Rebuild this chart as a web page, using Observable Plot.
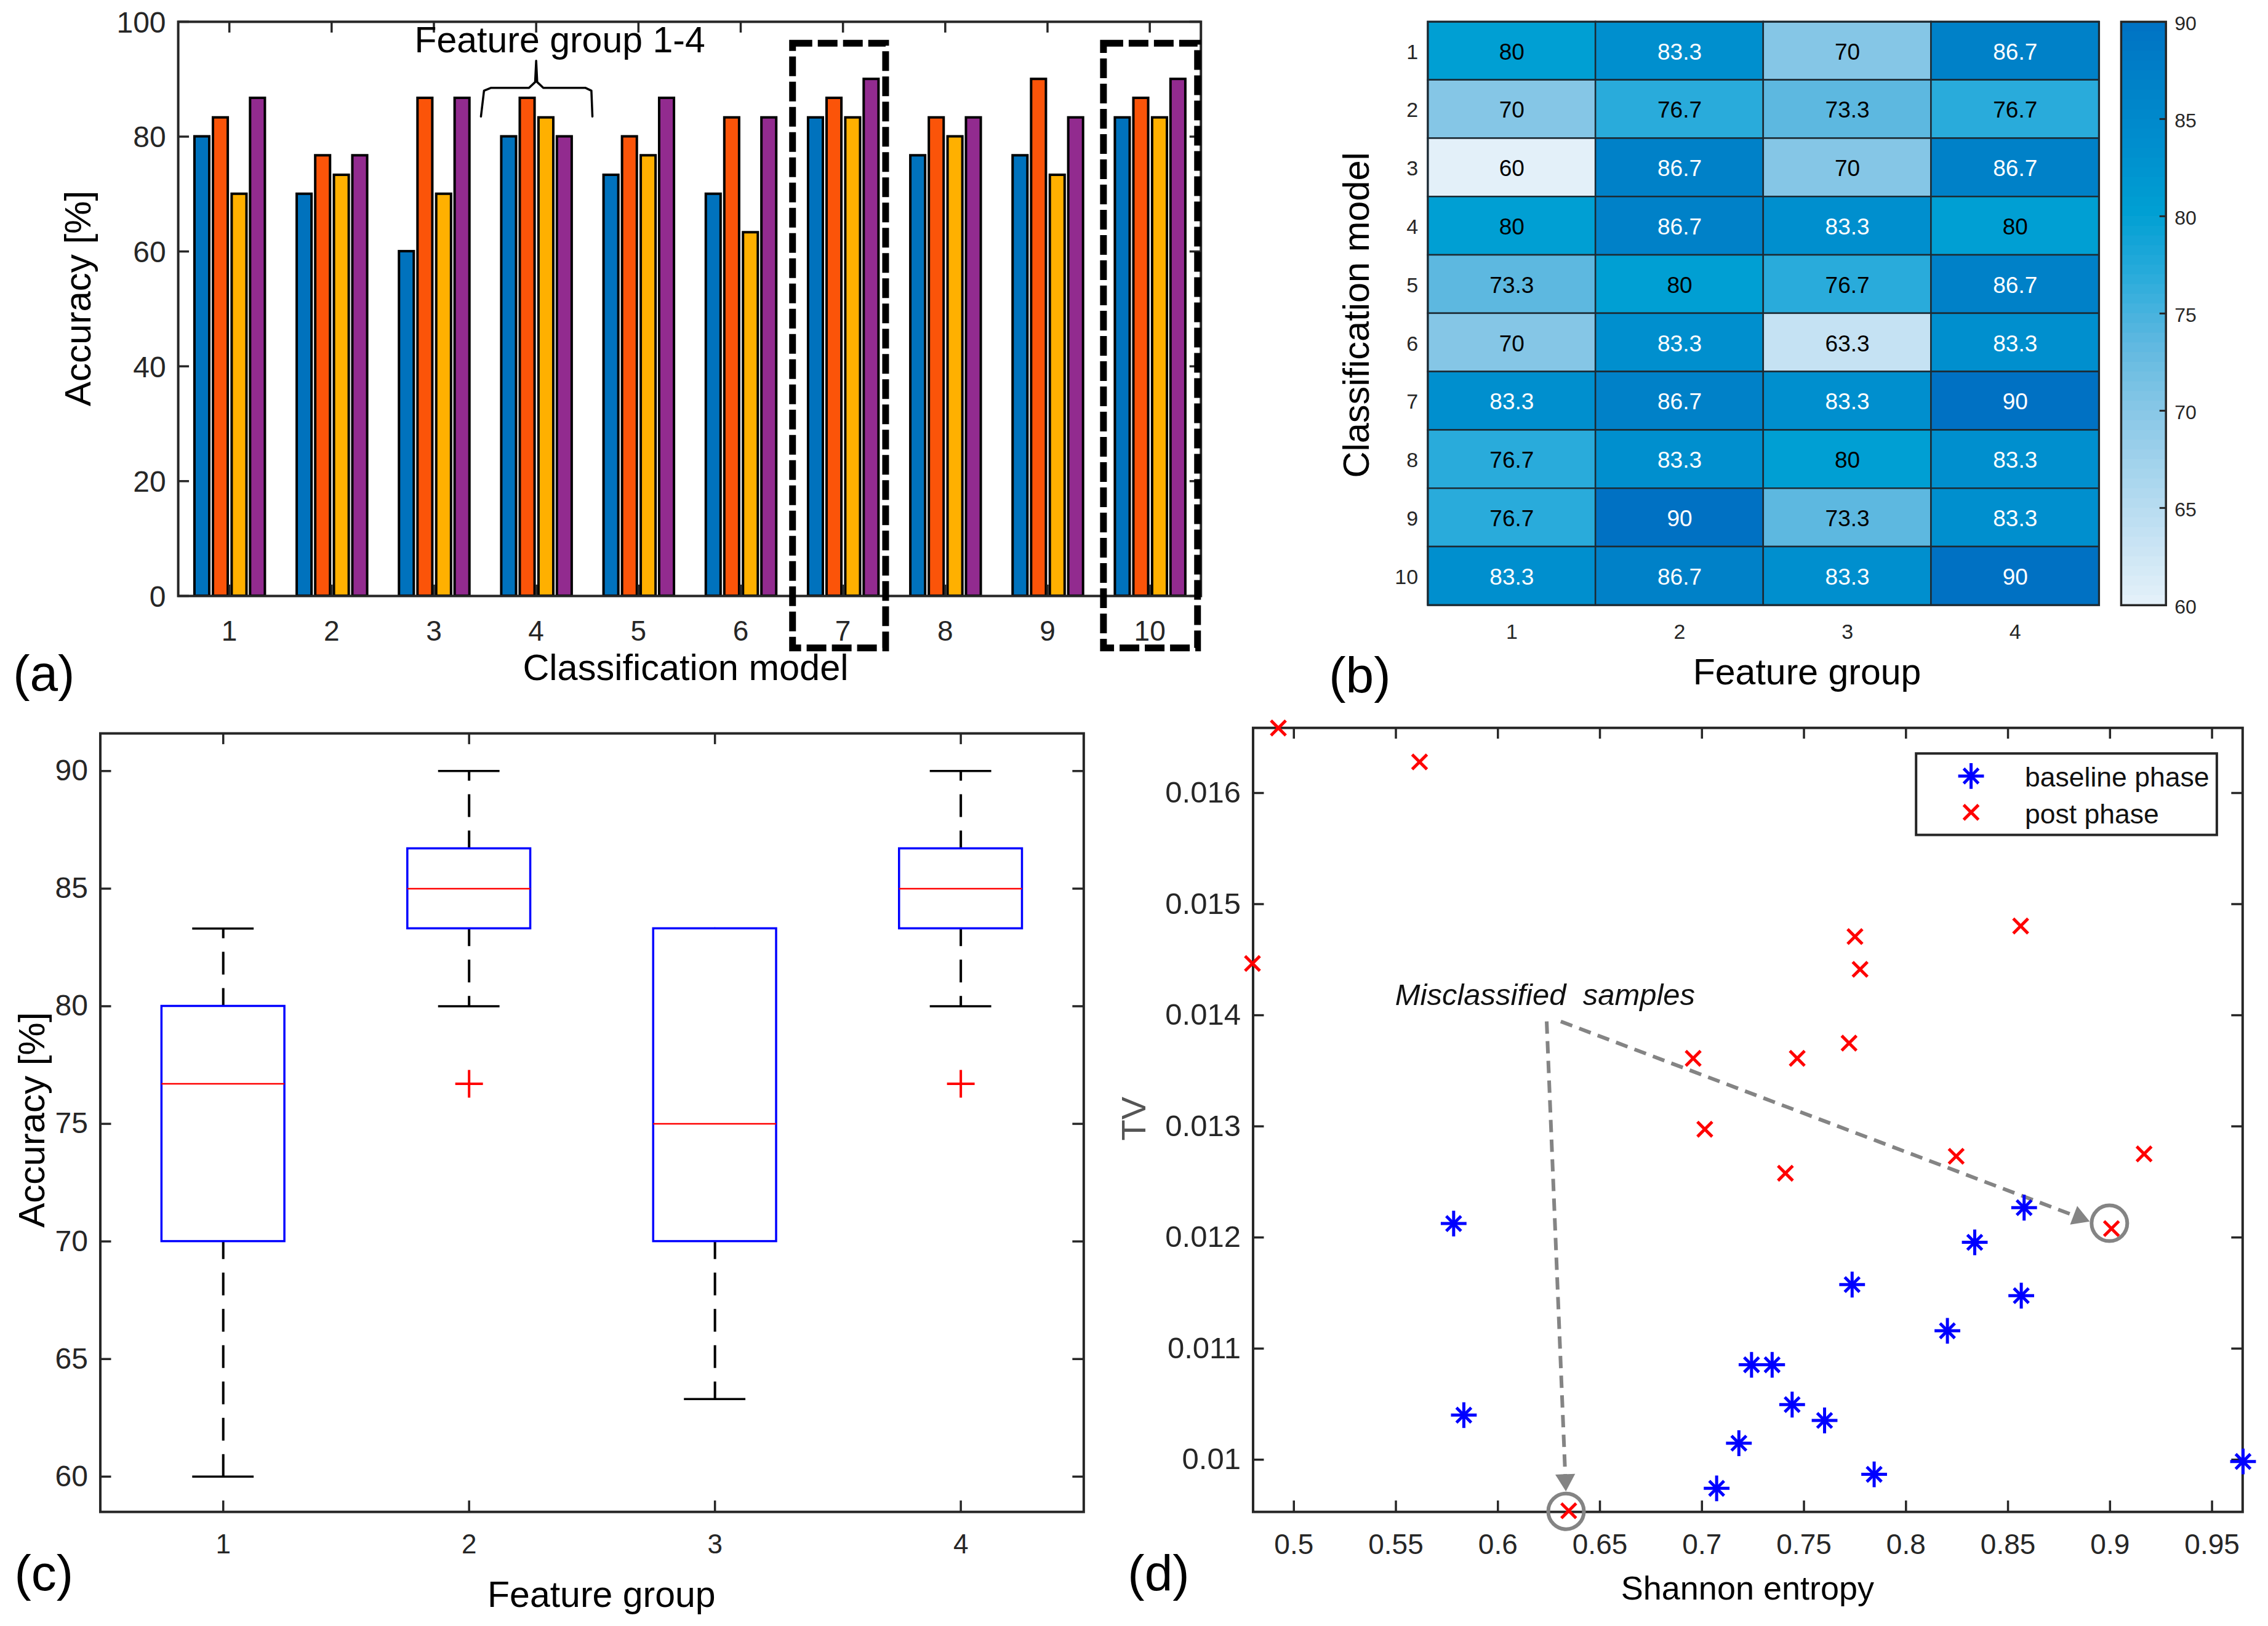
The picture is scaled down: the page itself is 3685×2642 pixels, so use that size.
<!DOCTYPE html>
<html><head><meta charset="utf-8">
<script src="https://cdn.jsdelivr.net/npm/d3@7"></script>
<script src="https://cdn.jsdelivr.net/npm/@observablehq/plot@0.6"></script>
<style>
html,body{margin:0;padding:0;background:#fff;width:3685px;height:2642px;overflow:hidden}
#page{position:relative;width:3685px;height:2642px}
#page svg{position:absolute;max-width:none;background:transparent}
text{font-family:"Liberation Sans",Arial,sans-serif}
</style></head><body><div id="page"></div>
<script>
const models=[1,2,3,4,5,6,7,8,9,10];
const groups=[1,2,3,4];
const accG1=[80,70,60,80,73.3,70,83.3,76.7,76.7,83.3];
const accG2=[83.3,76.7,86.7,86.7,80,83.3,86.7,83.3,90,86.7];
const accG3=[70,73.3,70,83.3,76.7,63.3,83.3,80,73.3,83.3];
const accG4=[86.7,76.7,86.7,80,86.7,83.3,90,83.3,83.3,90];
const barColors=["#0072BD","#FB5409","#FFB000","#922B8F"];
const barOffsets=[-0.266,-0.085,0.098,0.278];
const heatStops=[60,63.3,70,73.3,76.7,80,83.3,86.7,90];
const heatColors=["#E3F0F9","#C5E2F3","#85C6E6","#5DB8E0","#29ABDB","#009FD3","#008FCE","#0081C8","#0071C3"];
const boxLow=[60,80,63.3,80];
const boxQ1=[70,83.3,70,83.3];
const boxMedian=[76.7,85,75,85];
const boxQ3=[80,86.7,83.3,86.7];
const boxHigh=[83.3,90,83.3,90];
const outlierGroup=[2,4];
const outlierValue=[76.7,76.7];
const baseEntropy=[.5783,.8579,.8337,.7736,.8565,.8203,.7243,.7344,.7442,.7601,.5833,.7181,.7844,.7072,.9652];
const baseTV=[.012125,.012268,.011956,.011576,.011476,.01116,.010854,.010854,.010496,.010353,.010401,.010148,.009868,.009742,.009984];
const postEntropy=[.4924,.5616,.4797,.8562,.775,.7775,.7721,.7467,.6957,.7014,.7409,.8246,.9167,.9007,.6347];
const postTV=[.016585,.01628,.014466,.014803,.014708,.014413,.013749,.013612,.013612,.012974,.012578,.012731,.012752,.01208,.00954];
const missEntropy=[.8997,.6334];
const missTV=[.012128,.009535];

const INK="#262626", FONT='"Liberation Sans",Arial,sans-serif';
const K=0.9968;
const page=document.getElementById("page");

function panel(left,top,w,h,frame,opts){
  const [fl,ft,fr,fb]=frame.map(v=>v*K);
  const o=Object.assign({width:w,height:h,marginLeft:fl-left,marginTop:ft-top,marginRight:left+w-fr,marginBottom:top+h-fb,
    style:{fontFamily:FONT,background:"transparent",overflow:"visible"}},opts);
  o.marks=o.marks(fl,ft,fr,fb);
  const svg=Plot.plot(o);
  svg.style.left=left+"px"; svg.style.top=top+"px";
  page.appendChild(svg);
  return svg;
}
const lab=(fl,ft)=>(t,x,y,o={})=>Plot.text([t],Object.assign({text:d=>d,frameAnchor:"top-left",dx:x*K-fl,dy:y*K-ft,textAnchor:"middle",lineAnchor:"middle",fontSize:59,fill:"#000"},o));
function ticks(xs,ys,len,w,h,sw=3.5){
  return [
    Plot.ruleX(xs,{stroke:INK,strokeWidth:sw,insetTop:h-len}),
    Plot.ruleX(xs,{stroke:INK,strokeWidth:sw,insetBottom:h-len}),
    Plot.ruleY(ys,{stroke:INK,strokeWidth:sw,insetRight:w-len}),
    Plot.ruleY(ys,{stroke:INK,strokeWidth:sw,insetLeft:w-len})
  ];
}
const str=d=>String(d);

/* ---------- (a) grouped bars ---------- */
const barRows=models.flatMap((m,i)=>[accG1,accG2,accG3,accG4].map((s,g)=>({m,g,v:s[i],x1:m+barOffsets[g]-0.0725,x2:m+barOffsets[g]+0.0725})));
const dashedBoxes=[{x1:6.51,x2:7.42},{x1:9.55,x2:10.47}];
const braceX=[3.46,3.49,3.56,3.93,3.99,4.0,4.01,4.07,4.48,4.54,4.55];
const braceY=[83.5,88,88.5,88.5,89.5,93.2,89.5,88.5,88.5,88,83.5];
panel(0,0,2190,1180,[290,35,1957,971],{
  x:{domain:[0.5,10.5]}, y:{domain:[0,100]},
  marks:(fl,ft,fr,fb)=>{const L=lab(fl,ft);return [
    Plot.rect(barRows,{x1:"x1",x2:"x2",y1:0,y2:"v",fill:d=>barColors[d.g],stroke:"#000",strokeWidth:4}),
    ...ticks(models,[0,20,40,60,80,100],18,fr-fl,fb-ft),
    Plot.frame({stroke:INK,strokeWidth:4}),
    Plot.axisX(models,{tickSize:0,tickPadding:40,fontSize:46,label:null,fill:INK,tickFormat:str}),
    Plot.axisY([0,20,40,60,80,100],{tickSize:0,tickPadding:20,fontSize:48,label:null,fill:INK,dy:2}),
    Plot.rect(dashedBoxes,{x1:"x1",x2:"x2",y1:-9.1,y2:96.2,stroke:"#000",fill:"none",strokeWidth:11,strokeDasharray:"32 9"}),
    Plot.line(braceX.map((x,i)=>[x,braceY[i]]),{x:d=>d[0],y:d=>d[1],stroke:"#000",strokeWidth:3.5,curve:"linear"}),
    L("Feature group 1-4",912,66,{fontSize:59}),
    L("Classification model",1117,1089,{fontSize:59.5}),
    L("Accuracy [%]",128,486,{fontSize:60,rotate:-90}),
    L("(a)",71,1099,{fontSize:82})
  ]}
});

/* ---------- (b) heat map ---------- */
const heatRows=models.flatMap((m,i)=>[accG1,accG2,accG3,accG4].map((s,g)=>({m,g:g+1,v:s[i]})));
const colorScale={type:"linear",domain:heatStops,range:heatColors};
panel(2190,0,1240,1180,[2327,35,3421,986],{
  x:{type:"band",domain:groups,padding:0,round:false}, y:{type:"band",domain:models,padding:0,round:false}, color:colorScale,
  marks:(fl,ft,fr,fb)=>{const L=lab(fl,ft);return [
    Plot.cell(heatRows,{x:"g",y:"m",fill:"v",stroke:"#1c2a33",strokeWidth:2.5}),
    Plot.frame({stroke:"#1c2a33",strokeWidth:3}),
    Plot.text(heatRows,{x:"g",y:"m",text:d=>String(d.v),fill:d=>d.v>80?"#fff":"#000",fontSize:37,dy:2}),
    Plot.axisX(groups,{tickSize:0,tickPadding:31,fontSize:34,label:null,fill:INK}),
    Plot.axisY(models,{tickSize:0,tickPadding:16,fontSize:34,label:null,fill:INK,dy:2}),
    L("Feature group",2945,1096),
    L("Classification model",2212,513,{fontSize:59.5,rotate:-90}),
    L("(b)",2216,1102,{fontSize:82})
  ]}
});
/* colour bar */
const barSteps=d3.range(60,90,0.5);
panel(3430,0,255,1180,[3457,35,3530,986],{
  x:{domain:[0,1],axis:null}, y:{domain:[60,90]}, color:colorScale,
  marks:(fl,ft,fr,fb)=>[
    Plot.rect(barSteps,{x1:0,x2:1,y1:d=>d,y2:d=>Math.min(90,d+0.6),fill:d=>d}),
    Plot.ruleY([65,70,75,80,85],{stroke:INK,strokeWidth:3,insetLeft:fr-fl-10}),
    Plot.frame({stroke:INK,strokeWidth:3.5}),
    Plot.axisY([60,65,70,75,80,85,90],{anchor:"right",tickSize:0,tickPadding:14,fontSize:32,label:null,fill:INK,dy:3})
  ]
});

/* ---------- (c) box plot ---------- */
const boxRows=groups.map((g,i)=>({g,lo:boxLow[i],q1:boxQ1[i],med:boxMedian[i],q3:boxQ3[i],hi:boxHigh[i]}));
const outRows=outlierGroup.map((g,i)=>({g,v:outlierValue[i]}));
panel(0,1180,1840,1462,[163,1195,1766,2464],{
  x:{domain:[0.5,4.5]}, y:{domain:[58.5,91.6]},
  marks:(fl,ft,fr,fb)=>{const L=lab(fl,ft);const dash="37 22";return [
    ...ticks(groups,[60,65,70,75,80,85,90],18,fr-fl,fb-ft),
    Plot.frame({stroke:INK,strokeWidth:4}),
    Plot.ruleX(boxRows,{x:"g",y1:"q3",y2:"hi",stroke:"#000",strokeWidth:4,strokeDasharray:dash,strokeDashoffset:8}),
    Plot.ruleX(boxRows,{x:"g",y1:"q1",y2:"lo",stroke:"#000",strokeWidth:4,strokeDasharray:dash,strokeDashoffset:8}),
    Plot.ruleY(boxRows,{y:"hi",x1:d=>d.g-0.125,x2:d=>d.g+0.125,stroke:"#000",strokeWidth:3.5}),
    Plot.ruleY(boxRows,{y:"lo",x1:d=>d.g-0.125,x2:d=>d.g+0.125,stroke:"#000",strokeWidth:3.5}),
    Plot.rect(boxRows,{x1:d=>d.g-0.25,x2:d=>d.g+0.25,y1:"q1",y2:"q3",fill:"#fff",stroke:"#0000ff",strokeWidth:3.5}),
    Plot.ruleY(boxRows,{y:"med",x1:d=>d.g-0.25,x2:d=>d.g+0.25,stroke:"#ff0000",strokeWidth:2.5}),
    Plot.dot(outRows,{x:"g",y:"v",symbol:"plus",r:14.5,stroke:"#ff0000",strokeWidth:4}),
    Plot.axisX(groups,{tickSize:0,tickPadding:36,fontSize:44,label:null,fill:INK,tickFormat:str}),
    Plot.axisY([60,65,70,75,80,85,90],{tickSize:0,tickPadding:20,fontSize:48,label:null,fill:INK}),
    L("Feature group",980,2600),
    L("Accuracy [%]",52,1825,{fontSize:60,rotate:-90}),
    L("(c)",71,2565,{fontSize:82})
  ]}
});

/* ---------- (d) scatter ---------- */
const baseRows=baseEntropy.map((x,i)=>({x,y:baseTV[i]}));
const postRows=postEntropy.map((x,i)=>({x,y:postTV[i]}));
const missRows=missEntropy.map((x,i)=>({x,y:missTV[i]}));
const arrowRows=[{x1:.6308,y1:.013944,x2:.8848,y2:.012181,rot:111},{x1:.6239,y1:.013944,x2:.6331,y2:.009818,rot:177.8}];
const legendNames=["baseline phase","post phase"];
const legendTV=[.016137,.015805];
const legendMark=[.016153,.015826];
const xT=[.5,.55,.6,.65,.7,.75,.8,.85,.9,.95], yT=[.01,.011,.012,.013,.014,.015,.016];
const star=(data,x,y)=>[
  Plot.dot(data,{x,y,symbol:"plus",r:13.5,stroke:"#0000ff",strokeWidth:5}),
  Plot.dot(data,{x,y,symbol:"times",r:11,stroke:"#0000ff",strokeWidth:5})
];
panel(1840,1180,1845,1462,[2042,1186,3655,2464],{
  x:{domain:[.48,.965]}, y:{domain:[.00953,.016586]},
  marks:(fl,ft,fr,fb)=>{const L=lab(fl,ft);return [
    ...ticks(xT,yT,18,fr-fl,fb-ft),
    Plot.frame({stroke:INK,strokeWidth:4}),
    Plot.link(arrowRows,{x1:"x1",y1:"y1",x2:"x2",y2:"y2",stroke:"#848484",strokeWidth:6,strokeDasharray:"20 12"}),
    Plot.dot(arrowRows,{x:"x2",y:"y2",symbol:"triangle",r:12,fill:"#848484",rotate:"rot"}),
    Plot.dot(missRows,{x:"x",y:"y",r:29,stroke:"#848484",strokeWidth:6}),
    ...star(baseRows,"x","y"),
    Plot.dot(postRows,{x:"x",y:"y",symbol:"times",r:11,stroke:"#ff0000",strokeWidth:5}),
    Plot.rect([0],{x1:.8051,x2:.9525,y1:.01562,y2:.016353,fill:"#fff",stroke:INK,strokeWidth:4}),
    ...star([legendMark[0]],.8319,d=>d),
    Plot.dot([legendMark[1]],{x:.8319,y:d=>d,symbol:"times",r:11,stroke:"#ff0000",strokeWidth:5}),
    Plot.text(legendNames,{x:.8583,y:(d,i)=>legendTV[i],text:d=>d,textAnchor:"start",fontSize:44.5,fill:"#111"}),
    Plot.text(["Misclassified  samples"],{x:.5496,y:.014181,text:d=>d,textAnchor:"start",fontSize:49,fontStyle:"italic",fill:"#111"}),
    Plot.axisX(xT,{tickSize:0,tickPadding:36,fontSize:46,label:null,fill:INK,tickFormat:str}),
    Plot.axisY(yT,{tickSize:0,tickPadding:20,fontSize:49,label:null,fill:INK,tickFormat:str}),
    L("Shannon entropy",2848,2590,{fontSize:54}),
    L("TV",1848,1823,{fontSize:56,rotate:-90,fill:"#555"}),
    L("(d)",1888,2565,{fontSize:82})
  ]}
});
</script></body></html>
